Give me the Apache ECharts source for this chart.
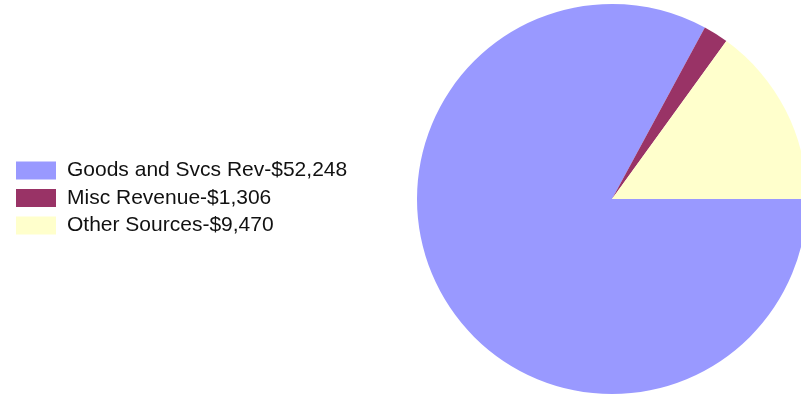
<!DOCTYPE html>
<html>
<head>
<meta charset="utf-8">
<script src="https://cdn.jsdelivr.net/npm/echarts@6/dist/echarts.min.js"></script>
<style>html,body{margin:0;padding:0;background:#fff;}#c{width:801px;height:396px;}</style>
</head>
<body>
<div id="c"></div>
<script>
const categories = ["Goods and Svcs Rev", "Misc Revenue", "Other Sources"];
const values = [52248, 1306, 9470];
const colors = ["#9999FF", "#993366", "#FFFFCC"];

const fmt = v => "$" + v.toLocaleString("en-US");
const labels = categories.map((c, i) => c + "-" + fmt(values[i]));

const chart = echarts.init(document.getElementById("c"), null, {renderer: "canvas"});
chart.setOption({
  animation: false,
  backgroundColor: "#ffffff",
  color: colors,
  legend: {
    orient: "vertical",
    left: 16,
    top: 160,
    itemWidth: 40,
    itemHeight: 18,
    itemGap: 6.5,
    icon: "rect",
    data: labels,
    textStyle: {fontFamily: "Liberation Sans, Arial", fontSize: 21, color: "#111", padding: [0, 0, 0, 6]},
    padding: 0
  },
  series: [{
    type: "pie",
    center: [612, 199],
    radius: [0, 195],
    startAngle: 0,
    clockwise: true,
    label: {show: false},
    labelLine: {show: false},
    itemStyle: {borderWidth: 0},
    emphasis: {disabled: true},
    data: labels.map((l, i) => ({name: l, value: values[i]}))
  }]
});
</script>
</body>
</html>
